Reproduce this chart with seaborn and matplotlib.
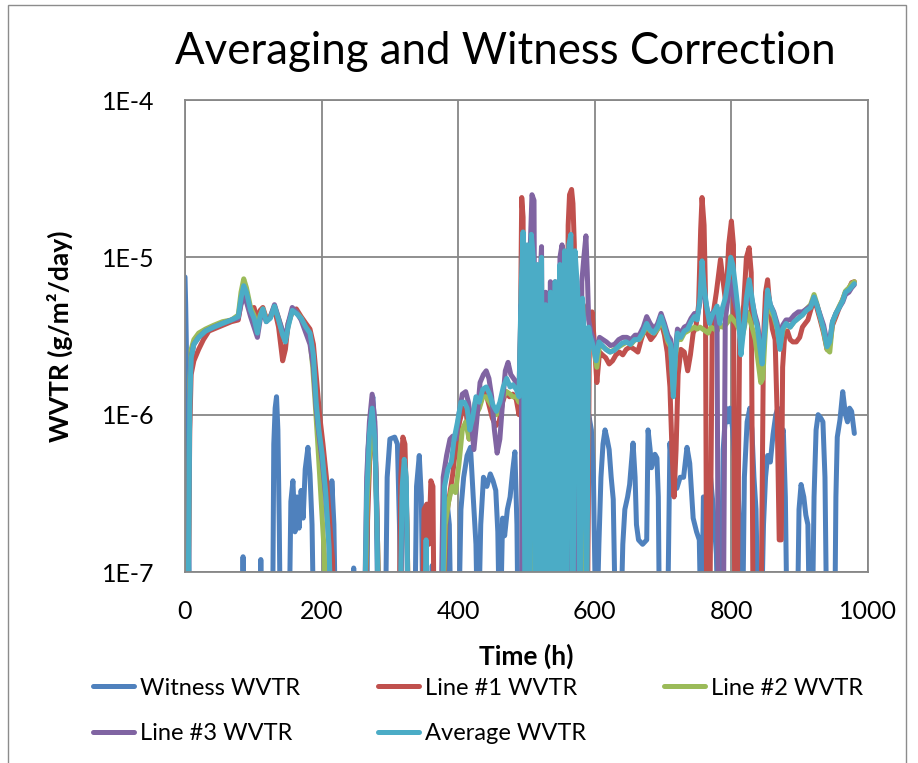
import numpy as np
import pandas as pd
import matplotlib
matplotlib.use("Agg")
import matplotlib.pyplot as plt
from matplotlib.lines import Line2D
from matplotlib.patches import Rectangle
import seaborn as sns

# ---------------------------------------------------------------------------
# Data: time (h) and WVTR (g/m^2/day). Values of 3e-8 sit below the 1E-7 floor
# of the log axis (readings at or below zero).
# ---------------------------------------------------------------------------
LOW = 3e-8

witness_t = [0, 1, 2.5, 4, 5.5, 7, 83, 85, 87, 109, 111, 113, 128, 130, 132, 134, 136, 138, 140,
             152, 155, 158, 161, 164, 167, 170, 173, 176, 180, 183, 186, 189, 212, 215, 218, 221,
             245, 247, 249, 266, 268, 272, 275, 278, 280, 283, 293, 296, 300, 307, 311, 314, 317,
             336, 339, 343, 346, 349, 360, 362, 364, 380, 383, 387, 390, 400, 404, 408, 413, 418,
             422, 426, 429, 433, 437, 442, 447, 451, 455, 458, 461, 465, 468, 472, 476, 480, 483,
             486, 488, 588, 591, 595, 598, 602, 606, 609, 612, 615, 618, 621, 624, 627, 631, 637,
             641, 644, 648, 651, 656, 659, 661, 664, 670, 676, 678, 681, 683, 688, 691, 693, 695,
             706, 710, 715, 720, 725, 730, 735, 739, 744, 749, 753, 756, 759, 764, 769, 773, 778,
             781, 784, 788, 792, 795, 798, 802, 805, 809, 813, 816, 819, 823, 827, 830, 833, 836,
             840, 843, 847, 850, 853, 857, 861, 865, 868, 872, 876, 879, 882, 896, 899, 902, 906,
             909, 912, 915, 918, 921, 924, 927, 931, 934, 937, 940, 951, 953, 955, 959, 963, 967,
             970, 973, 976, 980]
witness_wvtr = [7.5e-6, 5e-6, 2e-6, 6e-7, 2e-7, LOW, LOW, 1.25e-7, LOW, LOW, 1.2e-7, LOW, LOW,
                6.5e-7, 1.1e-6, 1.3e-6, 8e-7, 2e-7, LOW,
                LOW, 2.8e-7, 3.8e-7, 1.8e-7, 3e-7, 1.9e-7, 3.3e-7, 2.2e-7, 4.5e-7, 6.2e-7, 4.2e-7,
                2e-7, LOW, LOW, 3.8e-7, 2e-7, LOW,
                LOW, 1.06e-7, LOW, LOW, 6e-7, 1.0e-6, 1.3e-6, 8e-7, 3e-7, LOW, LOW, 4e-7, 7e-7,
                7.2e-7, 6.5e-7, 2e-7, LOW,
                LOW, 3.5e-7, 5.5e-7, 3e-7, LOW, LOW, 1.1e-7, LOW, LOW, 3e-7, 2e-7, LOW, LOW, 2.5e-7,
                4e-7, 5.5e-7, 6.2e-7,
                3e-7, 1.5e-7, LOW, 2e-7, 4e-7, 3.5e-7, 4.2e-7, 3.8e-7, 3.3e-7, 1.8e-7, LOW, 2.2e-7,
                1.7e-7, 2.5e-7, 3e-7, 4.5e-7, 5.8e-7,
                2e-7, LOW, LOW, 1.0e-6, 8e-7, 4e-7, LOW, 1.5e-7, 4e-7, 6.5e-7, 8e-7, 7e-7, 6e-7,
                4e-7, 2.9e-7, LOW, LOW,
                1.5e-7, 2.5e-7, 3e-7, 3.6e-7, 6.6e-7, 4e-7, 2e-7, 1.6e-7, 1.5e-7, 1.6e-7, 8e-7,
                6e-7, 4.6e-7, 5.6e-7, 5.3e-7, 3e-7, LOW,
                LOW, 6.6e-7, 3.6e-7, 3.4e-7, 4e-7, 4e-7, 6.2e-7, 4.9e-7, 2.2e-7, 1.8e-7, 1.6e-7,
                LOW, 3e-7, 3e-7, 4.2e-7, 2.7e-7, 1.3e-7,
                LOW, LOW, 6e-7, 1.1e-6, 9e-7, 1.1e-6, 8e-7, 5e-7, 4.4e-7, 1.3e-7, LOW, 4e-7, 9e-7,
                1.1e-6, 8e-7, 4e-7, 2.5e-7,
                LOW, LOW, 2e-7, 4e-7, 5.5e-7, 5e-7, 7.5e-7, 1.0e-6, 1.1e-6, 7e-7, 8e-7, 3e-7, LOW,
                LOW, 2.5e-7, 3.6e-7, 3e-7,
                2.3e-7, 2e-7, LOW, LOW, 3e-7, 8e-7, 1.0e-6, 9.5e-7, 9e-7, 4e-7, LOW, LOW, 3e-7,
                7.2e-7, 9.3e-7, 1.4e-6, 1.0e-6,
                9e-7, 1.1e-6, 1.05e-6, 7.6e-7]

line1_t = [0, 4, 7, 9, 13, 20, 27, 35, 42, 55, 68, 78, 82, 86, 90, 96, 101, 106, 110, 114, 119,
           125, 131, 137, 143, 147, 151, 157, 163, 170, 177, 183, 188, 193, 197, 202, 207, 212,
           216, 219, 262, 267, 271, 275, 279, 282, 285, 313, 316, 319, 322, 325, 328, 347, 350,
           354, 357, 360, 363, 365, 377, 382, 387, 392, 397, 402, 407, 412, 416, 420, 425, 430,
           435, 440, 445, 450, 455, 460, 465, 470, 475, 480, 485, 489,
           491, 493, 495, 497, 500, 503, 506, 509, 512, 515, 518, 520, 523, 526, 529, 532, 537,
           541, 546, 550, 555, 558, 561, 563, 566, 568, 570, 572, 576, 580, 583, 586, 589, 592,
           596, 599, 603, 607, 611, 616, 621, 626, 631, 636, 641, 646, 652, 658, 663, 668, 673,
           677, 682, 687, 692, 697, 702, 706, 710, 713, 716, 719, 722, 726, 731, 736, 740, 744,
           748, 752, 755, 757, 760, 762, 764, 768, 772, 778, 784, 788, 792, 796, 800, 803, 805,
           808, 812, 818, 822, 826, 829, 832, 838, 843, 847, 850, 853, 856, 860, 864, 867, 870,
           873, 875, 878, 882, 886, 890, 895, 900, 904, 908, 912, 916, 921, 925, 930, 935, 940,
           944, 948, 953, 958, 963, 967, 972, 976, 980]
line1_wvtr = [LOW, LOW, 8e-7, 1.8e-6, 2.2e-6, 2.6e-6, 3.0e-6, 3.4e-6, 3.5e-6, 3.7e-6, 3.9e-6,
              4.0e-6, 5.2e-6, 6.4e-6, 5.6e-6, 4.7e-6, 4.8e-6, 4.0e-6, 4.6e-6, 4.8e-6, 4.1e-6,
              4.2e-6, 4.7e-6, 3.6e-6, 2.2e-6, 2.6e-6, 3.8e-6, 4.5e-6, 4.7e-6, 4.2e-6, 3.8e-6,
              3.5e-6, 2.8e-6, 1.6e-6, 1.0e-6, 6.5e-7, 4e-7, 2e-7,
              1.2e-7, LOW, LOW, 2e-7, 6e-7, 9e-7, 5e-7, 1.5e-7, LOW, LOW, 4e-7, 7.2e-7, 6.5e-7,
              2e-7, LOW, LOW, 2.5e-7,
              2.7e-7, 1.5e-7, 3.8e-7, 3.5e-7, LOW, LOW, 2.2e-7, 3e-7, 4.2e-7, 6.5e-7, 9e-7,
              1.1e-6, 1.0e-6, 7e-7, 8.5e-7, 1.2e-6, 1.1e-6,
              1.3e-6, 1.4e-6, 1.15e-6, 9.5e-7, 8.5e-7, 9e-7, 1.2e-6, 1.4e-6, 1.3e-6, 1.35e-6,
              1.25e-6, 1.0e-6,
              3e-6, 2.4e-5, 1.8e-5, LOW, 6e-6, LOW, 5e-6, 8e-6, LOW, 6e-6, 4e-6, LOW, 4.5e-6, LOW,
              4.6e-6, LOW, 5e-6,
              LOW, 6e-6, LOW, 8e-6, LOW, 1.6e-5, 2.5e-5, 2.7e-5, 2.2e-5, 1.2e-5, LOW, 6e-6, LOW,
              5e-6, LOW, LOW, 3e-6,
              4.5e-6, 3e-6, 1.6e-6, 2.5e-6, 2.4e-6, 2.3e-6, 2.1e-6, 2.2e-6, 2.4e-6, 2.5e-6,
              2.4e-6, 2.6e-6, 2.7e-6, 2.6e-6, 2.5e-6, 3.0e-6, 3.5e-6,
              3.3e-6, 3.0e-6, 3.2e-6, 3.5e-6, 3.9e-6, 3.2e-6, 2.5e-6, 1.5e-6, 6e-7, 3e-7, 6e-7,
              1.8e-6, 2.6e-6, 2.5e-6, 1.9e-6, 2.4e-6, 3.3e-6,
              3.6e-6, 5e-6, 1.5e-5, 2.4e-5, 1.6e-5, 6e-6, LOW, LOW, 4e-6, 6e-6, 9.7e-6, 7e-6,
              5e-6, 1.2e-5, 1.7e-5, 1.2e-5, LOW,
              LOW, 3e-6, 5e-6, 1.0e-5, 1.15e-5, 8e-6, LOW, LOW, LOW, 3e-6, 6e-6, 7.2e-6, 5e-6,
              3.5e-6, 3e-6, 1e-6, 1.6e-7,
              1.6e-7, 2e-6, 3.2e-6, 3.4e-6, 3.0e-6, 2.9e-6, 2.9e-6, 3.1e-6, 3.6e-6, 3.8e-6,
              4.0e-6, 4.6e-6, 5.4e-6, 4.8e-6, 4.0e-6, 3.3e-6, 2.6e-6,
              2.8e-6, 3.7e-6, 4.2e-6, 4.8e-6, 5.4e-6, 6.0e-6, 6.3e-6, 6.9e-6, 7.0e-6]

line2_t = [0, 4, 7, 9, 13, 20, 30, 42, 55, 68, 78, 82, 86, 90, 96, 101, 106, 110, 114, 119, 125,
           131, 137, 143, 147, 151, 157, 163, 170, 177, 183, 187, 190, 194, 199, 204, 207,
           262, 267, 271, 275, 279, 282, 285, 315, 318, 322, 325, 328,
           376, 381, 386, 391, 396, 401, 406, 411, 416, 421, 426, 431, 436, 441, 446, 451, 456,
           461, 466, 471, 476, 480, 485, 489,
           492, 495, 498, 501, 505, 509, 513, 517, 521, 525, 529, 533, 537, 541, 545, 549, 553,
           557, 561, 564, 567, 570, 574, 578, 582, 586, 590,
           594, 598, 603, 607, 612, 617, 623, 629, 635, 641, 647, 653, 659, 665, 671, 676, 681,
           687, 692, 697, 702, 707, 711, 715, 718, 721, 726, 731, 736, 741, 746, 750, 754, 758,
           762, 766, 770, 775, 779, 783, 787, 791, 795, 799, 803, 807, 811, 815, 819, 823, 827,
           831, 835, 839, 843, 846, 849, 853, 857, 862, 867, 871, 875, 880, 886, 892, 898, 904,
           910, 916, 921, 925, 930, 935, 940, 944, 948, 953, 958, 963, 967, 972, 976, 980]
line2_wvtr = [LOW, LOW, 1.5e-6, 2.6e-6, 3.0e-6, 3.3e-6, 3.5e-6, 3.7e-6, 3.9e-6, 4.0e-6, 4.3e-6,
              6e-6, 7.3e-6, 6.4e-6, 4.8e-6, 4.3e-6, 3.5e-6, 4.3e-6, 4.7e-6, 4.0e-6, 4.2e-6,
              4.9e-6, 4.1e-6, 3.3e-6, 3.0e-6, 3.7e-6, 4.6e-6, 4.5e-6, 4.1e-6, 3.5e-6, 3.0e-6,
              2.0e-6, 1.3e-6, 7e-7, 3e-7, 1.3e-7, LOW,
              LOW, 3e-7, 6.5e-7, 1.0e-6, 5e-7, 1.5e-7, LOW, LOW, 3e-7, 4.5e-7, 2e-7, LOW,
              LOW, 2e-7, 2.8e-7, 3.5e-7, 3.2e-7, 4.8e-7, 8e-7, 9e-7, 7e-7, 8e-7, 1.0e-6, 1.1e-6,
              1.3e-6, 1.3e-6, 1.2e-6, 1.1e-6, 1.0e-6,
              1.1e-6, 1.3e-6, 1.4e-6, 1.35e-6, 1.3e-6, 1.3e-6, 1.2e-6,
              4e-6, LOW, 5e-6, LOW, 4e-6, LOW, 3e-6, LOW, 3.5e-6, 1.8e-6, LOW, 4e-6, LOW, 5e-6,
              LOW, 4e-6, LOW,
              4.5e-6, LOW, 3.2e-6, 1e-6, 3.5e-6, LOW, 4e-6, LOW, 3.5e-6, 3e-6,
              3.0e-6, 2.7e-6, 2.0e-6, 2.8e-6, 2.7e-6, 2.6e-6, 2.5e-6, 2.6e-6, 2.7e-6, 2.8e-6,
              2.9e-6, 2.8e-6, 3.0e-6, 3.0e-6, 3.3e-6, 3.7e-6, 3.4e-6,
              3.3e-6, 3.5e-6, 4.0e-6, 3.5e-6, 2.9e-6, 2.7e-6, 1.4e-6, 2.3e-6, 3.2e-6, 3.0e-6,
              3.3e-6, 3.4e-6, 3.5e-6, 3.6e-6, 3.5e-6, 3.6e-6, 3.5e-6,
              3.4e-6, 3.3e-6, 3.6e-6, 3.5e-6, 3.4e-6, 3.8e-6, 3.6e-6, 3.7e-6, 3.9e-6, 4.2e-6,
              4.0e-6, 3.8e-6, 3.5e-6, 3.0e-6, 3.6e-6, 4.5e-6, 4.0e-6,
              3.5e-6, 3.0e-6, 2.2e-6, 1.6e-6, 1.7e-6, 3.0e-6, 5.5e-6, 4.6e-6, 4.2e-6, 3.5e-6,
              2.7e-6, 3.4e-6, 3.8e-6, 3.6e-6, 3.9e-6, 4.1e-6, 4.3e-6,
              4.7e-6, 5.0e-6, 5.8e-6, 5.1e-6, 4.2e-6, 3.4e-6, 2.6e-6, 2.5e-6, 3.8e-6, 4.4e-6,
              4.9e-6, 5.4e-6, 6.1e-6, 6.4e-6, 6.8e-6, 7.0e-6]

line3_t = [0, 4, 7, 9, 13, 20, 30, 42, 55, 68, 78, 82, 86, 90, 96, 101, 106, 110, 114, 119, 125,
           131, 137, 143, 147, 151, 157, 163, 170, 177, 183, 188, 192, 196, 201, 206, 211, 215,
           262, 266, 270, 274, 278, 281, 284, 315, 318, 321, 324, 327,
           374, 378, 383, 388, 392, 397, 401, 406, 411, 415, 419, 423, 427, 432, 437, 441, 445,
           449, 453, 457, 461, 465, 469, 473, 477, 481, 485, 489,
           492, 494, 497, 500, 502, 505, 508, 511, 513, 516, 519, 522, 525, 528, 531, 535, 538,
           542, 546, 549, 552, 555, 558, 561, 564, 568, 571, 574, 578, 581, 584, 587, 589, 591,
           594, 598, 603, 607, 612, 617, 623, 629, 635, 641, 647, 653, 659, 665, 671, 676, 681,
           687, 692, 697, 702, 707, 711, 715, 718, 721, 726, 731, 736, 741, 746, 750, 754, 757,
           760, 764, 768, 772, 776, 779, 781, 788, 791, 795, 799, 802, 806, 810, 814, 818, 822,
           826, 830, 834, 838, 842, 845, 849, 853, 857, 862, 867, 871, 875, 880, 886, 892, 898,
           904, 910, 916, 921, 925, 930, 935, 940, 944, 948, 953, 958, 963, 967, 972, 976, 980]
line3_wvtr = [LOW, LOW, 1.3e-6, 2.3e-6, 2.8e-6, 3.1e-6, 3.4e-6, 3.6e-6, 3.8e-6, 4.0e-6, 4.1e-6,
              5.0e-6, 5.6e-6, 5.2e-6, 4.2e-6, 3.6e-6, 3.1e-6, 4.0e-6, 4.6e-6, 3.9e-6, 4.2e-6,
              5.0e-6, 4.1e-6, 3.4e-6, 3.0e-6, 3.8e-6, 4.8e-6, 4.5e-6, 4.0e-6, 3.3e-6, 2.8e-6,
              2.0e-6, 1.1e-6, 7.5e-7, 5e-7, 3e-7, 1.5e-7, LOW,
              LOW, 4e-7, 9e-7, 1.35e-6, 9e-7, 2.5e-7, LOW, LOW, 3e-7, 4.6e-7, 3.5e-7, LOW,
              LOW, 4e-7, 5.5e-7, 7e-7, 7.3e-7, 7e-7, 1.0e-6, 1.35e-6, 1.4e-6, 1.2e-6, 9e-7, 6e-7,
              9e-7, 1.6e-6, 1.8e-6, 1.9e-6, 1.7e-6,
              1.3e-6, 8e-7, 5.7e-7, 7e-7, 1.2e-6, 1.9e-6, 2.15e-6, 1.8e-6, 1.7e-6, 1.6e-6, 1.4e-6,
              5e-6, LOW, 1.1e-5, 6e-6, LOW, 1.0e-5, 2.5e-5, 2.3e-5, 3e-7, 1.5e-7, 6e-6, 1.17e-5,
              LOW, 6e-6, LOW, 7e-6, LOW,
              7e-6, LOW, 1.0e-5, 1.2e-5, 1.0e-5, LOW, 8e-6, LOW, 7e-6, LOW, 5e-6, LOW, 7e-6,
              1.0e-5, 1.37e-5, 8e-6, 4e-6,
              3.4e-6, 3.0e-6, 2.5e-6, 3.1e-6, 3.0e-6, 2.9e-6, 2.75e-6, 2.8e-6, 3.0e-6, 3.1e-6,
              3.1e-6, 3.0e-6, 3.2e-6, 3.2e-6, 3.6e-6, 4.2e-6, 3.8e-6,
              3.5e-6, 3.8e-6, 4.4e-6, 3.8e-6, 3.2e-6, 3.0e-6, 1.6e-6, 2.6e-6, 3.5e-6, 3.3e-6,
              3.6e-6, 3.7e-6, 4.1e-6, 4.4e-6, 4.2e-6, 5.2e-6, 8e-6,
              6e-6, 4.8e-6, 4.0e-6, 4.4e-6, 4.6e-6, 3.5e-6, LOW, LOW, 4.0e-6, 5.5e-6, 7e-6, 6e-6,
              5e-6, 4.2e-6, 3e-6, 3.6e-6, 5.0e-6,
              6.5e-6, 5.4e-6, 4.4e-6, 3.8e-6, 2.9e-6, 2.4e-6, 3.6e-6, 6.0e-6, 5.0e-6, 4.5e-6,
              3.8e-6, 2.9e-6, 3.7e-6, 4.0e-6, 4.0e-6, 4.3e-6, 4.5e-6,
              4.5e-6, 4.7e-6, 4.9e-6, 5.5e-6, 5.0e-6, 4.3e-6, 3.7e-6, 2.9e-6, 3.0e-6, 3.9e-6,
              4.4e-6, 4.8e-6, 5.2e-6, 5.8e-6, 6.0e-6, 6.4e-6, 6.7e-6]

average_t = [0, 4, 7, 9, 13, 20, 30, 42, 55, 68, 78, 82, 86, 90, 96, 101, 106, 110, 114, 119,
             125, 131, 137, 143, 147, 151, 157, 163, 170, 177, 183, 188, 192, 196, 201, 206, 211,
             215, 262, 266, 270, 274, 278, 281, 284, 314, 318, 321, 324, 327, 350, 353, 356,
             376, 380, 385, 390, 394, 399, 404, 409, 413, 417, 421, 426, 431, 436, 441, 446, 451,
             456, 461, 466, 471, 476, 480, 485, 489,
             492, 495, 498, 501, 504, 507, 510, 513, 516, 519, 522, 525, 528, 531, 535, 538, 542,
             545, 549, 552, 556, 559, 562, 565, 568, 571, 575, 578, 582, 585, 588, 591,
             593, 597, 602, 606, 611, 616, 622, 628, 634, 640, 646, 652, 658, 664, 670, 676, 680,
             686, 692, 697, 702, 707, 711, 715, 718, 721, 726, 731, 736, 741, 746, 750, 754, 757,
             760, 764, 768, 772, 776, 779, 783, 787, 791, 795, 799, 802, 806, 810, 814, 818, 822,
             826, 830, 834, 838, 842, 845, 849, 853, 857, 862, 867, 871, 875, 880, 886, 892, 898,
             904, 910, 916, 921, 925, 930, 935, 940, 944, 948, 953, 958, 963, 967, 972, 976, 980]
average_wvtr = [LOW, LOW, 1.2e-6, 2.3e-6, 2.8e-6, 3.1e-6, 3.4e-6, 3.6e-6, 3.8e-6, 4.0e-6, 4.2e-6,
                5.5e-6, 6.6e-6, 6.0e-6, 4.6e-6, 4.1e-6, 3.3e-6, 4.2e-6, 4.7e-6, 3.9e-6,
                4.1e-6, 4.9e-6, 4.0e-6, 3.2e-6, 2.9e-6, 3.6e-6, 4.6e-6, 4.4e-6, 4.1e-6, 3.6e-6,
                3.3e-6, 2.4e-6, 1.2e-6, 8e-7, 5.5e-7, 3.2e-7, 1.4e-7,
                LOW, LOW, 3e-7, 7.5e-7, 1.1e-6, 7e-7, 2e-7, LOW, LOW, 3.5e-7, 5.2e-7, 4e-7, LOW,
                LOW, 1.6e-7, LOW,
                LOW, 3.5e-7, 4.5e-7, 5e-7, 7e-7, 9e-7, 1.2e-6, 1.2e-6, 1.1e-6, 8e-7, 9.5e-7,
                1.3e-6, 1.2e-6, 1.45e-6, 1.5e-6, 1.35e-6, 1.15e-6,
                1.05e-6, 1.2e-6, 1.5e-6, 1.7e-6, 1.5e-6, 1.55e-6, 1.45e-6, 1.3e-6,
                6e-6, 1.45e-5, LOW, 1.2e-5, LOW, 1.4e-5, 1.0e-5, LOW, 9e-6, LOW, 1.0e-5, LOW,
                5e-6, LOW, 6e-6, LOW, 7e-6,
                LOW, 9e-6, LOW, 1.1e-5, LOW, 1.2e-5, 1.4e-5, LOW, 1.1e-5, 6e-6, LOW, 5.5e-6,
                3e-6, LOW, 3.6e-6,
                3.2e-6, 2.8e-6, 2.2e-6, 2.9e-6, 2.75e-6, 2.6e-6, 2.5e-6, 2.55e-6, 2.7e-6, 2.85e-6,
                2.9e-6, 2.8e-6, 3.0e-6, 3.0e-6, 3.3e-6, 3.8e-6, 3.5e-6,
                3.3e-6, 3.6e-6, 4.2e-6, 3.6e-6, 3.0e-6, 2.8e-6, 1.3e-6, 2.4e-6, 3.3e-6, 3.1e-6,
                3.4e-6, 3.5e-6, 3.9e-6, 4.2e-6, 4.0e-6, 5.5e-6, 9.5e-6,
                6.5e-6, 4.8e-6, 3.8e-6, 4.3e-6, 4.6e-6, 4.9e-6, 3.8e-6, 4.8e-6, 5.5e-6, 7e-6,
                1.0e-5, 9e-6, 6.5e-6, 4.5e-6, 2.4e-6, 3.5e-6, 5.5e-6,
                7.2e-6, 5.6e-6, 4.2e-6, 3.6e-6, 2.6e-6, 2.1e-6, 3.5e-6, 6.2e-6, 5e-6, 4.4e-6,
                3.6e-6, 2.6e-6, 3.5e-6, 3.8e-6, 3.6e-6, 3.9e-6, 4.1e-6,
                4.3e-6, 4.6e-6, 4.8e-6, 5.6e-6, 5.0e-6, 4.2e-6, 3.5e-6, 2.7e-6, 2.9e-6, 3.9e-6,
                4.4e-6, 4.8e-6, 5.3e-6, 6.0e-6, 6.2e-6, 6.5e-6, 6.8e-6]

series_names = ["Witness WVTR", "Line #1 WVTR", "Line #2 WVTR", "Line #3 WVTR", "Average WVTR"]
series_colors = ["#4F81BD", "#C0504D", "#9BBB59", "#8064A2", "#4BACC6"]
y_ticks = [1e-7, 1e-6, 1e-5, 1e-4]
y_tick_labels = ["1E-7", "1E-6", "1E-5", "1E-4"]
x_ticks = [0, 200, 400, 600, 800, 1000]

frames = []
for name, t, v in zip(series_names,
                      [witness_t, line1_t, line2_t, line3_t, average_t],
                      [witness_wvtr, line1_wvtr, line2_wvtr, line3_wvtr, average_wvtr]):
    frames.append(pd.DataFrame({"Time": t, "WVTR": v, "Series": name}))
df = pd.concat(frames, ignore_index=True)

# ---------------------------------------------------------------------------
sns.set_style("white")
plt.rcParams["font.family"] = ["Lato", "DejaVu Sans"]
for key in ("text.color", "axes.labelcolor", "xtick.color", "ytick.color"):
    plt.rcParams[key] = "black"

W, H = 918, 763
LW = 3.6
fig = plt.figure(figsize=(W / 100, H / 100), dpi=100)
ax = fig.add_axes([185 / W, 1 - 572 / H, (868 - 185) / W, (572 - 100) / H])

sns.lineplot(data=df, x="Time", y="WVTR", hue="Series", hue_order=series_names,
             palette=series_colors, estimator=None, sort=False, linewidth=LW,
             legend=False, ax=ax)

grid_col = "#878787"
ax.set_yscale("log")
ax.set_xlim(0, 1000)
ax.set_ylim(1e-7, 1e-4)
ax.set_xticks(x_ticks)
ax.set_xticklabels([str(x) for x in x_ticks])
ax.set_yticks(y_ticks)
ax.set_yticklabels(y_tick_labels)
ax.yaxis.set_minor_locator(matplotlib.ticker.NullLocator())
ax.grid(True, which="major", color=grid_col, linewidth=1.3)
ax.set_axisbelow(True)
for s in ax.spines.values():
    s.set_color(grid_col)
    s.set_linewidth(1.3)
ax.tick_params(axis="both", length=0, labelsize=18, colors="black")
ax.tick_params(axis="y", pad=22)
ax.tick_params(axis="x", pad=20)

ax.set_xlabel("Time (h)", fontsize=19, fontweight="bold", labelpad=15)
ax.set_ylabel("WVTR (g/m²/day)", fontsize=19, fontweight="bold", labelpad=21)

fig.text(505 / W, 1 - 52 / H, "Averaging and Witness Correction", fontsize=31.5,
         ha="center", va="center")

# legend in row order: Witness, Line #1, Line #2 / Line #3, Average
handles = {n: Line2D([], [], color=c, linewidth=LW) for n, c in zip(series_names, series_colors)}
order = ["Witness WVTR", "Line #3 WVTR", "Line #1 WVTR", "Average WVTR", "Line #2 WVTR"]
fig.legend([handles[n] for n in order], order, ncol=3, loc="center",
           bbox_to_anchor=(478 / W, 1 - 711 / H), frameon=False, fontsize=17,
           handlelength=1.75, handletextpad=0.25, columnspacing=3.3, labelspacing=1.05)

# chart border
fig.add_artist(Rectangle((8 / W, -0.02), (906 - 8) / W, 1.02 - 5 / H, transform=fig.transFigure,
                         fill=False, edgecolor="#8c8c8c", linewidth=1.0))

fig.savefig("out.png", dpi=100)
